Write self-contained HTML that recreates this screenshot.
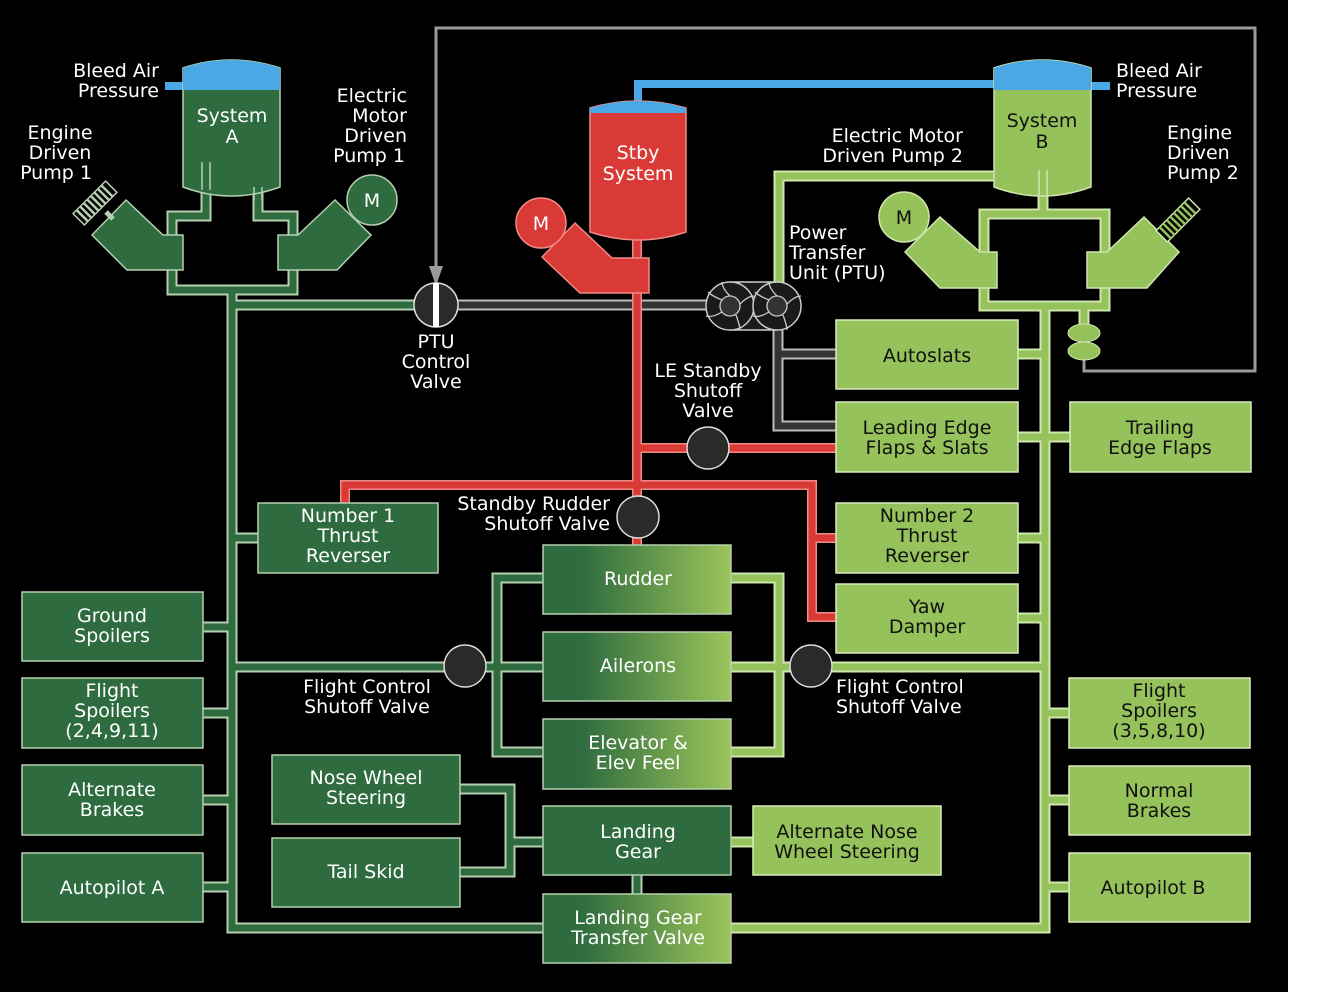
<!DOCTYPE html>
<html><head><meta charset="utf-8"><style>
html,body{margin:0;padding:0;background:#fff;}
svg{display:block;}
text{font-family:"DejaVu Sans","Liberation Sans",sans-serif;font-size:19px;}
.w{fill:#fff;}
.k{fill:#111;}
</style></head><body>
<svg width="1334" height="992" viewBox="0 0 1334 992" xmlns="http://www.w3.org/2000/svg">
<defs>
<linearGradient id="gr" x1="0" x2="1" y1="0" y2="0">
<stop offset="0.2" stop-color="#2e6b3f"/><stop offset="1" stop-color="#9cc55a"/>
</linearGradient>
<path id="pD" d="M206,165 V216 H172 V290 H293 V216 H258 V165 M232,290 V928 H543 M232,305 H414 M232,667 H543 M543,578 H497 V752 H543 M232,538 H258 M203,627 H232 M203,713 H232 M203,800 H232 M203,887 H232 M460,789 H510 V872 H460 M510,842 H543 M637,875 V894"/>
<path id="pL" d="M994,176 H779 V283 M1043,170 V214 H984 V306 H1105 V214 H1043 M1045,306 V928 H731 M1084,306 V332 M731,667 H1045 M731,578 H779 V752 H731 M1018,354 H1045 M1018,437 H1070 M1018,538 H1045 M1018,618 H1045 M1045,713 H1069 M1045,800 H1069 M1045,887 H1069 M731,842 H753"/>
<path id="pG" d="M458,305 H706 M778,330 V426 H836 M778,354 H836"/>
<path id="pR" d="M637,240 V545 M637,448 H836 M345,503 V485 H812 V617 H836 M812,538 H836"/>
</defs>
<rect x="0" y="0" width="1288" height="992" fill="#000"/>

<!-- grey control line -->
<path d="M1084,355 V371 H1255 V28 H436 V270" fill="none" stroke="#9a9a9a" stroke-width="3"/>
<polygon points="429,266 443,266 436,286" fill="#9a9a9a"/>

<!-- blue bleed line -->
<path d="M638,108 V84 H996" fill="none" stroke="#4aa8e4" stroke-width="8"/>

<!-- pipes -->
<use href="#pG" fill="none" stroke="#bdbdbd" stroke-width="11"/>
<use href="#pG" fill="none" stroke="#333" stroke-width="7"/>
<use href="#pD" fill="none" stroke="#b5cfb0" stroke-width="11"/>
<use href="#pD" fill="none" stroke="#2e6b3f" stroke-width="7"/>
<use href="#pL" fill="none" stroke="#cfe6b0" stroke-width="11"/>
<use href="#pL" fill="none" stroke="#95c25a" stroke-width="7"/>
<use href="#pR" fill="none" stroke="#f08a86" stroke-width="10"/>
<use href="#pR" fill="none" stroke="#d93a35" stroke-width="7"/>

<!-- System A tank -->
<rect x="165" y="82" width="20" height="8" fill="#4aa8e4"/>
<path d="M183,68 Q231,52 280,68 V187 Q231,205 183,187 Z" fill="#2e6b3f" stroke="#b5cfb0" stroke-width="1.5"/>
<path d="M183,68 Q231,52 280,68 V90 H183 Z" fill="#4aa8e4"/>
<text class="w" x="232" y="122" text-anchor="middle">System</text>
<text class="w" x="232" y="143" text-anchor="middle">A</text>
<path d="M202,162 V190 M210,162 V190 M254,187 V200 M262,187 V200" stroke="#b5cfb0" stroke-width="1.5"/>
<!-- pumps A -->
<polygon points="92,235 126,200 163,235 183,235 183,270 127,270" fill="#2e6b3f" stroke="#b5cfb0" stroke-width="1.5"/>
<polygon points="278,235 298,235 335,200 371,235 337,270 278,270" fill="#2e6b3f" stroke="#b5cfb0" stroke-width="1.5"/>
<circle cx="372" cy="200" r="25" fill="#2e6b3f" stroke="#b5cfb0" stroke-width="1.5"/>
<text class="w" x="372" y="207" text-anchor="middle">M</text>
<g transform="translate(95,203) rotate(-45)">
<rect x="-23" y="-8" width="46" height="16" fill="#000" stroke="#b5cfb0" stroke-width="1.5"/>
<path d="M-18,-8 V8 M-13,-8 V8 M-8,-8 V8 M-3,-8 V8 M2,-8 V8 M7,-8 V8 M12,-8 V8 M17,-8 V8" stroke="#b5cfb0" stroke-width="2.5"/>
</g>
<path d="M106,212 L113,219" stroke="#b5cfb0" stroke-width="5"/>

<!-- System B tank -->
<rect x="1090" y="82" width="20" height="8" fill="#4aa8e4"/>
<path d="M994,68 Q1042,52 1091,68 V187 Q1042,205 994,187 Z" fill="#95c25a" stroke="#cfe6b0" stroke-width="1.5"/>
<path d="M994,68 Q1042,52 1091,68 V90 H994 Z" fill="#4aa8e4"/>
<text class="k" x="1042" y="127" text-anchor="middle">System</text>
<text class="k" x="1042" y="148" text-anchor="middle">B</text>
<path d="M1039,170 V196 M1047,170 V196" stroke="#cfe6b0" stroke-width="1.5"/>
<polygon points="905,252 940,217 980,252 997,252 997,288 940,288" fill="#95c25a" stroke="#cfe6b0" stroke-width="1.5"/>
<polygon points="1087,252 1107,252 1144,217 1179,252 1147,288 1087,288" fill="#95c25a" stroke="#cfe6b0" stroke-width="1.5"/>
<circle cx="904" cy="217" r="25" fill="#95c25a" stroke="#cfe6b0" stroke-width="1.5"/>
<text class="k" x="904" y="224" text-anchor="middle">M</text>
<g transform="translate(1178,220) rotate(-45)">
<rect x="-23" y="-8" width="46" height="16" fill="#000" stroke="#cfe6b0" stroke-width="1.5"/>
<path d="M-18,-8 V8 M-13,-8 V8 M-8,-8 V8 M-3,-8 V8 M2,-8 V8 M7,-8 V8 M12,-8 V8 M17,-8 V8" stroke="#95c25a" stroke-width="2.5"/>
</g>
<ellipse cx="1084" cy="333" rx="16" ry="9" fill="#95c25a" stroke="#cfe6b0"/>
<ellipse cx="1084" cy="351" rx="16" ry="9" fill="#95c25a" stroke="#cfe6b0"/>

<!-- Stby tank -->
<path d="M590,108 Q638,94 686,108 V232 Q638,248 590,232 Z" fill="#d93a35" stroke="#f08a86" stroke-width="1.5"/>
<path d="M590,108 Q638,94 686,108 V113 H590 Z" fill="#4aa8e4"/>
<text class="w" x="638" y="159" text-anchor="middle">Stby</text>
<text class="w" x="638" y="180" text-anchor="middle">System</text>
<polygon points="542,257 575,223 612,258 649,258 649,293 580,293" fill="#d93a35" stroke="#f08a86" stroke-width="1.5"/>
<circle cx="541" cy="223" r="25" fill="#d93a35" stroke="#f08a86" stroke-width="1.5"/>
<text class="w" x="541" y="230" text-anchor="middle">M</text>

<!-- PTU -->
<rect x="730" y="282" width="47" height="48" fill="#1a1a1a"/>
<path d="M730,282 H777 M730,330 H777" stroke="#ccc" stroke-width="1.5"/>
<g stroke="#ccc" stroke-width="1.5" fill="#1a1a1a">
<circle cx="730" cy="306" r="24"/><circle cx="777" cy="306" r="24"/>
</g>
<g stroke="#ccc" stroke-width="1.3" fill="none">
<path d="M730,296 Q722,288 722,282 M740,304 Q748,296 754,296 M736,315 Q740,326 740,330 M722,312 Q712,318 706,316 M722,300 Q712,296 708,292"/>
<path d="M777,296 Q769,288 769,282 M787,304 Q795,296 801,296 M783,315 Q787,326 787,330 M769,312 Q759,318 753,316 M769,300 Q759,296 755,292"/>
<circle cx="730" cy="306" r="10" fill="#333"/><circle cx="777" cy="306" r="10" fill="#333"/>
</g>

<!-- valves -->
<circle cx="436" cy="305" r="22" fill="#2a2a2a" stroke="#ddd" stroke-width="1.5"/>
<rect x="433" y="283" width="6" height="44" fill="#fff"/>
<circle cx="708" cy="448" r="21" fill="#2a2a2a" stroke="#ddd" stroke-width="1.5"/>
<circle cx="638" cy="517" r="21" fill="#2a2a2a" stroke="#ddd" stroke-width="1.5"/>
<circle cx="465" cy="666" r="21" fill="#2a2a2a" stroke="#ddd" stroke-width="1.5"/>
<circle cx="811" cy="666" r="21" fill="#2a2a2a" stroke="#ddd" stroke-width="1.5"/>
<path d="M444,667 H486 M790,667 H832" stroke="#2a2a2a" stroke-width="0"/>

<!-- boxes dark green -->
<g fill="#2e6b3f" stroke="#b5cfb0" stroke-width="1.5">
<rect x="258" y="503" width="180" height="70"/>
<rect x="22" y="592" width="181" height="69"/>
<rect x="22" y="678" width="181" height="70"/>
<rect x="22" y="765" width="181" height="70"/>
<rect x="22" y="853" width="181" height="69"/>
<rect x="272" y="755" width="188" height="69"/>
<rect x="272" y="838" width="188" height="69"/>
<rect x="543" y="806" width="188" height="69"/>
</g>
<g fill="url(#gr)" stroke="#b5cfb0" stroke-width="1.5">
<rect x="543" y="545" width="188" height="69"/>
<rect x="543" y="632" width="188" height="69"/>
<rect x="543" y="719" width="188" height="70"/>
<rect x="543" y="894" width="188" height="69"/>
</g>
<g fill="#95c25a" stroke="#d8ebc0" stroke-width="1.5">
<rect x="836" y="320" width="182" height="69"/>
<rect x="836" y="402" width="182" height="70"/>
<rect x="1070" y="402" width="181" height="70"/>
<rect x="836" y="503" width="182" height="70"/>
<rect x="836" y="584" width="182" height="69"/>
<rect x="1069" y="678" width="181" height="70"/>
<rect x="1069" y="766" width="181" height="69"/>
<rect x="1069" y="853" width="181" height="69"/>
<rect x="753" y="806" width="188" height="69"/>
</g>

<!-- box text -->
<g class="w" text-anchor="middle">
<text x="348" y="522">Number 1</text><text x="348" y="542">Thrust</text><text x="348" y="562">Reverser</text>
<text x="112" y="622">Ground</text><text x="112" y="642">Spoilers</text>
<text x="112" y="697">Flight</text><text x="112" y="717">Spoilers</text><text x="112" y="737">(2,4,9,11)</text>
<text x="112" y="796">Alternate</text><text x="112" y="816">Brakes</text>
<text x="112" y="894">Autopilot A</text>
<text x="366" y="784">Nose Wheel</text><text x="366" y="804">Steering</text>
<text x="366" y="878">Tail Skid</text>
<text x="638" y="838">Landing</text><text x="638" y="858">Gear</text>
<text x="638" y="585">Rudder</text>
<text x="638" y="672">Ailerons</text>
<text x="638" y="749">Elevator &amp;</text><text x="638" y="769">Elev Feel</text>
<text x="638" y="924">Landing Gear</text><text x="638" y="944">Transfer Valve</text>
</g>
<g class="k" text-anchor="middle">
<text x="927" y="362">Autoslats</text>
<text x="927" y="434">Leading Edge</text><text x="927" y="454">Flaps &amp; Slats</text>
<text x="1160" y="434">Trailing</text><text x="1160" y="454">Edge Flaps</text>
<text x="927" y="522">Number 2</text><text x="927" y="542">Thrust</text><text x="927" y="562">Reverser</text>
<text x="927" y="613">Yaw</text><text x="927" y="633">Damper</text>
<text x="1159" y="697">Flight</text><text x="1159" y="717">Spoilers</text><text x="1159" y="737">(3,5,8,10)</text>
<text x="1159" y="797">Normal</text><text x="1159" y="817">Brakes</text>
<text x="1153" y="894">Autopilot B</text>
<text x="847" y="838">Alternate Nose</text><text x="847" y="858">Wheel Steering</text>
</g>

<!-- labels -->
<g class="w">
<text x="159" y="77" text-anchor="end">Bleed Air</text><text x="159" y="97" text-anchor="end">Pressure</text>
<text x="60" y="139" text-anchor="middle">Engine</text><text x="60" y="159" text-anchor="middle">Driven</text><text x="56" y="179" text-anchor="middle">Pump 1</text>
<text x="407" y="102" text-anchor="end">Electric</text><text x="407" y="122" text-anchor="end">Motor</text><text x="407" y="142" text-anchor="end">Driven</text><text x="405" y="162" text-anchor="end">Pump 1</text>
<text x="1116" y="77">Bleed Air</text><text x="1116" y="97">Pressure</text>
<text x="1167" y="139">Engine</text><text x="1167" y="159">Driven</text><text x="1167" y="179">Pump 2</text>
<text x="963" y="142" text-anchor="end">Electric Motor</text><text x="963" y="162" text-anchor="end">Driven Pump 2</text>
<text x="789" y="239">Power</text><text x="789" y="259">Transfer</text><text x="789" y="279">Unit (PTU)</text>
<text x="436" y="348" text-anchor="middle">PTU</text><text x="436" y="368" text-anchor="middle">Control</text><text x="436" y="388" text-anchor="middle">Valve</text>
<text x="708" y="377" text-anchor="middle">LE Standby</text><text x="708" y="397" text-anchor="middle">Shutoff</text><text x="708" y="417" text-anchor="middle">Valve</text>
<text x="610" y="510" text-anchor="end">Standby Rudder</text><text x="610" y="530" text-anchor="end">Shutoff Valve</text>
<text x="367" y="693" text-anchor="middle">Flight Control</text><text x="367" y="713" text-anchor="middle">Shutoff Valve</text>
<text x="836" y="693">Flight Control</text><text x="836" y="713">Shutoff Valve</text>
</g>
</svg>
</body></html>
